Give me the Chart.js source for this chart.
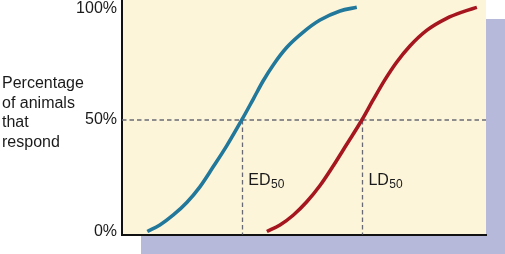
<!DOCTYPE html>
<html>
<head>
<meta charset="utf-8">
<script src="https://cdn.jsdelivr.net/npm/chart.js@4/dist/chart.umd.min.js"></script>
<style>
  html, body { margin: 0; padding: 0; background: #ffffff; }
  #wrap { width: 505px; height: 254px; position: relative; }
</style>
</head>
<body>
<div id="wrap"><canvas id="chart" width="505" height="254"></canvas></div>
<script>
// Dose-response curves: effective dose vs lethal dose

// x = dose (arbitrary units), y = percentage of animals that respond
const edDose = [6.95, 10.4, 14.1, 17.8, 21.4, 25.1, 28.8, 32.9, 36.1, 38.8, 41.6, 45.3, 49.8, 54.4, 59.9, 64.5];
const edResponse = [0, 2.9, 7.4, 13.0, 20.0, 29.1, 38.5, 50, 59.5, 67.6, 74.8, 82.6, 89.4, 94.8, 98.9, 100.5];

const ldDose = [39.8, 43.4, 47.1, 50.7, 54.4, 58.1, 61.7, 65.9, 69.0, 72.3, 75.5, 79.1, 83.7, 89.2, 93.8, 97.5];
const ldResponse = [0, 2.9, 7.4, 13.2, 20.6, 29.6, 39.0, 50, 59.0, 68.2, 76.0, 83.2, 90.2, 95.6, 98.6, 100.5];

const yTicks = [0, 50, 100];
const yTitle = ["Percentage", "of animals", "that", "respond"];

// 50% markers
const markerLabels = ["ED", "LD"];
const markerDoses = [32.9, 65.9];
const markerLevel = 50;


function toPoints(xs, ys){
    return xs.map((x, i) => ({ x: x, y: ys[i] }));
}


const backdrop = {
    id: "backdrop",
    beforeDraw(chart){
        const ctx = chart.ctx;
        const a = chart.chartArea;
        ctx.save();
        // lavender shadow box
        ctx.fillStyle = "#b6b9da";
        ctx.fillRect(a.left + 19, 19, chart.width - a.left - 19, chart.height - 19);
        // yellow plot panel
        ctx.fillStyle = "#fcf5da";
        ctx.fillRect(a.left, 0, a.right - a.left, a.bottom);
        ctx.restore();
    }
};


const markers = {
    id: "markers",
    beforeDatasetsDraw(chart){
        const ctx = chart.ctx;
        const a = chart.chartArea;
        const xs = chart.scales.x;
        const ys = chart.scales.y;
        const yMid = ys.getPixelForValue(markerLevel);

        ctx.save();
        ctx.strokeStyle = "#6a6a74";
        ctx.lineWidth = 1.3;
        ctx.setLineDash([4.5, 3]);

        ctx.beginPath();
        ctx.moveTo(a.left, yMid);
        ctx.lineTo(a.right, yMid);
        ctx.stroke();

        markerDoses.forEach(d => {
            const px = Math.round(xs.getPixelForValue(d)) + 0.5;
            ctx.beginPath();
            ctx.moveTo(px, yMid);
            ctx.lineTo(px, a.bottom);
            ctx.stroke();
        });
        ctx.restore();
    },
    afterDraw(chart){
        const ctx = chart.ctx;
        const xs = chart.scales.x;
        ctx.save();
        ctx.fillStyle = "#1a1a1a";
        ctx.textBaseline = "alphabetic";
        ctx.textAlign = "left";

        markerLabels.forEach((lab, i) => {
            const px = xs.getPixelForValue(markerDoses[i]) + 6.5;
            ctx.font = "16px 'Liberation Sans Narrow', 'Liberation Sans', Arial, sans-serif";
            ctx.fillText(lab, px, 185);
            const w = ctx.measureText(lab).width;
            ctx.font = "12px 'Liberation Sans', Arial, sans-serif";
            ctx.fillText("50", px + w + 0.5, 188);
        });

        // y axis description, left aligned, several lines
        ctx.font = "16px 'Liberation Sans', Arial, sans-serif";
        ctx.fillStyle = "#1a1a1a";
        yTitle.forEach((line, i) => {
            ctx.fillText(line, 2, 88 + i * 19.5);
        });
        ctx.restore();
    }
};


new Chart(document.getElementById("chart"), {
    type: "line",
    data: {
        datasets: [
            {
                label: "ED",
                data: toPoints(edDose, edResponse),
                borderColor: "#22789a",
                borderWidth: 3.6,
                pointRadius: 0,
                cubicInterpolationMode: "monotone",
                fill: false
            },
            {
                label: "LD",
                data: toPoints(ldDose, ldResponse),
                borderColor: "#a5161f",
                borderWidth: 3.6,
                pointRadius: 0,
                cubicInterpolationMode: "monotone",
                fill: false
            }
        ]
    },
    options: {
        responsive: false,
        animation: false,
        layout: { padding: { left: 0, right: 19, top: 0, bottom: 0 } },
        plugins: {
            legend: { display: false },
            tooltip: { enabled: false }
        },
        scales: {
            x: {
                type: "linear",
                min: 0,
                max: 100,
                grid: { display: false, drawTicks: false },
                border: { display: true, color: "#111111", width: 2 },
                ticks: { display: false },
                afterFit(scale){
                    scale.height = 19.5;
                    scale.paddingLeft = 0;
                    scale.paddingRight = 0;
                }
            },
            y: {
                type: "linear",
                min: -1.35,
                max: 103.8,
                grid: { display: false, drawTicks: false },
                border: { display: true, color: "#111111", width: 2 },
                afterBuildTicks(scale){
                    scale.ticks = yTicks.map(v => ({ value: v }));
                },
                ticks: {
                    padding: 5,
                    color: "#1a1a1a",
                    font: { family: "'Liberation Sans', Arial, sans-serif", size: 16 },
                    callback: v => v + "%"
                },
                afterFit(scale){
                    scale.width = 122;
                    scale.paddingTop = 0;
                    scale.paddingBottom = 0;
                }
            }
        }
    },
    plugins: [backdrop, markers]
});
</script>
</body>
</html>
